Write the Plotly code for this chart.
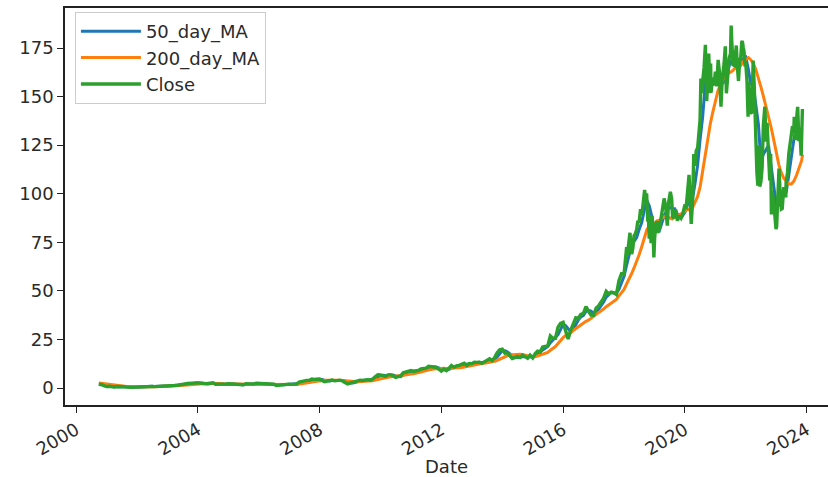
import pandas as pd
import plotly.graph_objects as go

# ---------------- data (split-adjusted prices) ----------------
# Monthly closes, month-ends from 2000-09 to 2017-12
close_monthly = [
    1.92, 1.83, 1.23, 0.78,
    0.87, 0.51, 0.51, 0.79, 0.84, 0.71, 0.62, 0.45, 0.30, 0.35, 0.45, 0.54,
    0.71, 0.70, 0.72, 0.83, 0.91, 0.81, 0.72, 0.75, 0.80, 0.97, 1.17, 0.94,
    1.09, 1.10, 1.30, 1.43, 1.79, 1.82, 2.08, 2.32, 2.42, 2.72, 2.73, 2.63,
    2.52, 2.15, 2.16, 2.18, 2.43, 2.72, 1.95, 1.91, 2.04, 1.71, 1.98, 2.21,
    2.16, 1.76, 1.71, 1.62, 1.78, 1.65, 2.25, 2.14, 2.27, 1.99, 2.42, 2.36,
    2.24, 1.87, 1.83, 1.76, 1.73, 1.93, 1.34, 1.54, 1.61, 1.90, 2.02, 1.97,
    1.88, 1.96, 1.99, 3.07, 3.46, 3.42, 3.93, 4.00, 4.66, 4.46, 4.53, 4.63,
    3.89, 3.22, 3.57, 3.93, 4.08, 3.67, 3.82, 4.04, 3.64, 2.86, 2.14, 2.56,
    2.94, 3.24, 3.67, 4.03, 3.90, 4.18, 4.29, 4.06, 4.67, 5.94, 6.80, 6.73,
    6.27, 5.92, 6.79, 6.86, 6.27, 5.46, 5.89, 6.24, 7.85, 8.26, 8.77, 9.00,
    8.48, 8.66, 9.01, 9.79, 9.83, 10.22, 11.13, 10.76, 10.81, 10.68, 9.61, 8.66,
    9.72, 8.98, 10.13, 11.60, 10.65, 11.42, 11.67, 12.41, 12.72, 11.64, 12.60, 12.54,
    13.28, 13.21, 13.32, 12.69, 13.46, 13.88, 15.06, 14.05, 15.63, 18.20, 19.68, 19.94,
    17.93, 18.11, 16.82, 15.21, 15.63, 16.24, 15.65, 16.95, 16.12, 15.27, 16.93, 15.52,
    17.73, 19.01, 18.61, 21.09, 21.46, 21.70, 26.81, 25.64, 25.59, 31.30, 33.24, 33.79,
    29.35, 25.20, 29.68, 32.98, 36.14, 35.78, 37.94, 38.46, 41.87, 39.49, 37.53, 37.49,
    41.17, 42.25, 44.33, 46.25, 49.73, 48.40, 49.39, 49.03, 48.07, 55.26, 58.84, 58.47,
]

# Finer closes from 2018 onward
close_recent_dates = [
    "2018-01-02", "2018-01-16", "2018-01-31", "2018-02-08", "2018-02-15", "2018-02-28",
    "2018-03-12", "2018-03-29", "2018-04-02", "2018-04-16", "2018-04-30", "2018-05-15",
    "2018-05-31", "2018-06-15", "2018-06-29", "2018-07-17", "2018-07-31", "2018-08-15",
    "2018-08-31", "2018-09-04", "2018-09-14", "2018-09-28", "2018-10-11", "2018-10-17",
    "2018-10-29", "2018-11-08", "2018-11-20", "2018-12-03", "2018-12-14", "2018-12-24",
    "2019-01-02", "2019-01-18", "2019-01-31", "2019-02-08", "2019-02-28", "2019-03-15",
    "2019-03-29", "2019-04-26", "2019-05-15", "2019-06-03", "2019-06-17", "2019-07-10",
    "2019-07-26", "2019-08-05", "2019-08-23", "2019-09-13", "2019-10-02", "2019-10-24",
    "2019-11-15", "2019-12-02", "2019-12-27",
    "2020-01-15", "2020-01-31", "2020-02-19", "2020-03-02", "2020-03-16", "2020-04-01",
    "2020-04-16", "2020-05-01", "2020-05-15", "2020-06-01", "2020-06-15", "2020-06-30",
    "2020-07-10", "2020-07-24", "2020-08-03", "2020-08-17", "2020-09-02", "2020-09-08",
    "2020-09-18", "2020-10-12", "2020-10-30", "2020-11-04", "2020-11-09", "2020-11-27",
    "2020-12-10", "2020-12-23", "2020-12-31",
    "2021-01-08", "2021-01-15", "2021-02-02", "2021-02-16", "2021-03-08", "2021-03-23",
    "2021-04-14", "2021-04-29", "2021-05-12", "2021-05-28", "2021-06-15", "2021-06-30",
    "2021-07-08", "2021-07-16", "2021-07-30", "2021-08-16", "2021-08-31", "2021-09-08",
    "2021-09-20", "2021-10-04", "2021-10-20", "2021-10-29", "2021-11-12", "2021-11-19",
    "2021-11-30", "2021-12-10", "2021-12-20", "2021-12-31",
    "2022-01-14", "2022-01-27", "2022-02-04", "2022-02-23", "2022-03-14", "2022-03-29",
    "2022-04-11", "2022-04-29", "2022-05-13", "2022-05-24", "2022-06-07", "2022-06-16",
    "2022-06-30", "2022-07-15", "2022-07-29", "2022-08-16", "2022-08-31", "2022-09-12",
    "2022-09-30", "2022-10-14", "2022-10-25", "2022-10-28", "2022-11-03", "2022-11-11",
    "2022-11-30", "2022-12-15", "2022-12-28",
    "2023-01-05", "2023-01-20", "2023-02-02", "2023-02-15", "2023-03-02", "2023-03-13",
    "2023-03-31", "2023-04-14", "2023-04-25", "2023-04-28", "2023-05-15", "2023-05-31",
    "2023-06-15", "2023-06-30", "2023-07-14", "2023-07-31", "2023-08-04", "2023-08-18",
    "2023-08-31", "2023-09-14", "2023-09-29", "2023-10-11", "2023-10-26", "2023-11-03",
    "2023-11-10",
]
close_recent = [
    59.45, 65.6, 72.5, 68.0, 73.0, 75.6,
    79.9, 72.4, 68.9, 72.1, 78.3, 79.4,
    81.5, 86.1, 85.0, 92.1, 88.9, 94.0,
    100.6, 102.0, 98.0, 100.2, 85.8, 91.5,
    76.9, 88.8, 74.6, 88.6, 79.5, 67.2,
    77.0, 84.7, 85.9, 79.9, 82.0, 85.6,
    89.0, 97.6, 93.1, 83.6, 95.0, 101.0,
    97.0, 88.3, 87.5, 91.8, 86.1, 88.7,
    87.4, 89.0, 93.5,
    93.0, 100.4, 109.7, 97.7, 84.5, 95.5,
    120.4, 114.3, 122.1, 123.6, 129.6, 137.9,
    159.3, 151.8, 158.8, 164.9, 176.6, 152.0,
    147.7, 172.1, 151.8, 167.0, 152.0, 159.8,
    155.8, 159.3, 162.8,
    159.1, 155.2, 168.9, 163.3, 144.8, 159.3,
    166.9, 175.9, 151.7, 161.2, 170.0, 172.0,
    186.6, 178.0, 166.4, 166.0, 173.5, 176.3,
    165.8, 158.1, 169.8, 168.6, 178.0, 178.6,
    175.4, 173.1, 166.6, 166.7,
    158.1, 139.6, 157.6, 142.0, 141.4, 168.6,
    155.7, 124.3, 111.1, 104.1, 124.8, 103.7,
    106.2, 113.6, 135.0, 144.8, 126.8, 136.5,
    113.0, 106.9, 120.6, 103.4, 89.3, 100.8,
    96.5, 88.5, 81.8,
    83.1, 97.3, 112.9, 101.2, 92.1, 92.4,
    103.3, 102.5, 98.1, 105.5, 110.8, 120.6,
    127.1, 130.4, 134.7, 133.7, 139.6, 127.6,
    138.0, 144.7, 127.1, 131.8, 119.6, 138.6,
    143.6,
]

# Moving averages, month-ends 2000-09 .. 2023-10, plus a final mid-Nov 2023 value
ma50 = [
    1.84, 1.94, 1.66, 1.28,
    0.96, 0.72, 0.63, 0.60, 0.71, 0.78, 0.72, 0.59, 0.46, 0.37, 0.37, 0.45,
    0.57, 0.65, 0.71, 0.75, 0.82, 0.85, 0.81, 0.76, 0.76, 0.84, 0.98, 1.03,
    1.07, 1.04, 1.16, 1.28, 1.51, 1.68, 1.90, 2.07, 2.27, 2.49, 2.62, 2.69,
    2.63, 2.43, 2.28, 2.16, 2.26, 2.44, 2.37, 2.19, 1.97, 1.89, 1.91, 1.97,
    2.12, 2.04, 1.88, 1.70, 1.70, 1.68, 1.89, 2.01, 2.22, 2.13, 2.23, 2.26,
    2.34, 2.16, 1.98, 1.82, 1.77, 1.81, 1.67, 1.60, 1.50, 1.68, 1.84, 1.96,
    1.96, 1.94, 1.94, 2.34, 2.84, 3.32, 3.60, 3.78, 4.20, 4.37, 4.55, 4.54,
    4.35, 3.91, 3.56, 3.57, 3.86, 3.89, 3.86, 3.84, 3.83, 3.51, 2.88, 2.52,
    2.55, 2.91, 3.28, 3.65, 3.87, 4.04, 4.12, 4.18, 4.34, 4.89, 5.80, 6.49,
    6.60, 6.31, 6.33, 6.52, 6.64, 6.20, 5.87, 5.86, 6.66, 7.45, 8.29, 8.68,
    8.75, 8.71, 8.72, 9.15, 9.54, 9.95, 10.39, 10.70, 10.90, 10.75, 10.37, 9.65,
    9.33, 9.12, 9.61, 10.24, 10.79, 11.22, 11.25, 11.83, 12.27, 12.26, 12.32, 12.26,
    12.81, 13.01, 13.27, 13.07, 13.16, 13.34, 14.13, 14.33, 14.91, 15.96, 17.84, 19.27,
    19.18, 18.66, 17.62, 16.71, 15.89, 15.69, 15.84, 16.28, 16.24, 16.11, 16.11, 15.91,
    16.73, 17.42, 18.45, 19.57, 20.39, 21.42, 23.32, 24.72, 26.01, 27.51, 30.04, 32.78,
    32.13, 30.26, 28.89, 30.10, 32.93, 34.97, 36.62, 37.39, 39.42, 39.94, 39.63, 38.17,
    38.73, 40.30, 42.58, 44.28, 46.77, 48.13, 49.17, 48.94, 48.83, 50.79, 54.06, 57.52,
    63.28, 68.88, 73.51, 75.43, 77.39, 81.59, 85.11, 91.50, 96.55, 93.56, 88.19, 79.84,
    81.85, 81.01, 85.66, 89.12, 91.37, 93.25, 92.26, 92.28, 89.65, 88.15, 88.56, 90.42,
    94.29, 95.67, 97.37, 105.13, 114.44, 127.92, 139.43, 156.24, 162.74, 160.60, 155.88, 157.69,
    160.52, 159.27, 156.55, 160.91, 163.07, 168.84, 166.51, 170.64, 168.06, 168.80, 169.41, 170.23,
    163.88, 156.62, 155.38, 146.95, 135.83, 116.90, 120.46, 122.64, 124.91, 114.07, 103.99, 94.33,
    94.56, 93.79, 100.22, 100.99, 109.77, 118.80, 128.21, 134.02, 132.94, 132.74,
    133.0,
]
ma200 = [
    2.63, 2.44, 2.24, 1.97,
    1.72, 1.50, 1.31, 1.20, 1.14, 1.00, 0.87, 0.73, 0.64, 0.60, 0.55, 0.56,
    0.58, 0.57, 0.56, 0.57, 0.60, 0.63, 0.67, 0.71, 0.75, 0.79, 0.84, 0.86,
    0.90, 0.93, 0.97, 1.03, 1.13, 1.24, 1.37, 1.50, 1.63, 1.81, 1.97, 2.12,
    2.25, 2.32, 2.36, 2.39, 2.43, 2.47, 2.42, 2.34, 2.27, 2.18, 2.12, 2.13,
    2.13, 2.09, 2.02, 1.91, 1.89, 1.86, 1.88, 1.93, 1.96, 1.93, 1.96, 2.02,
    2.07, 2.10, 2.10, 2.11, 2.06, 2.04, 1.95, 1.90, 1.82, 1.78, 1.75, 1.76,
    1.77, 1.79, 1.81, 1.93, 2.14, 2.33, 2.56, 2.77, 3.03, 3.28, 3.55, 3.82,
    4.01, 4.02, 4.03, 4.08, 4.10, 4.06, 3.98, 3.94, 3.85, 3.67, 3.50, 3.43,
    3.37, 3.30, 3.26, 3.29, 3.30, 3.32, 3.38, 3.50, 3.75, 4.09, 4.48, 4.83,
    5.09, 5.28, 5.57, 5.83, 6.03, 6.17, 6.29, 6.32, 6.43, 6.58, 6.83, 7.14,
    7.31, 7.49, 7.76, 8.20, 8.59, 8.99, 9.32, 9.57, 9.77, 9.94, 10.05, 10.05,
    10.12, 10.04, 10.07, 10.21, 10.16, 10.23, 10.31, 10.49, 10.80, 11.09, 11.38, 11.74,
    12.05, 12.21, 12.48, 12.61, 12.79, 12.93, 13.17, 13.41, 13.71, 14.28, 14.92, 15.59,
    16.05, 16.59, 16.93, 17.06, 17.12, 17.34, 17.34, 17.22, 16.86, 16.39, 16.29, 16.03,
    16.13, 16.51, 16.80, 17.29, 17.87, 18.34, 19.41, 20.45, 21.32, 22.89, 24.45, 25.92,
    27.00, 27.65, 28.47, 29.60, 30.53, 31.55, 32.78, 33.50, 34.36, 34.93, 35.75, 36.74,
    37.89, 38.81, 39.63, 40.68, 41.86, 42.85, 43.60, 44.56, 45.61, 47.39, 49.16, 50.78,
    53.60, 56.54, 58.80, 61.79, 65.00, 68.60, 72.68, 77.21, 81.34, 83.49, 84.68, 84.63,
    85.99, 86.36, 87.11, 88.25, 88.24, 87.64, 86.96, 87.85, 88.08, 89.45, 89.86, 90.90,
    92.04, 91.83, 92.70, 95.60, 98.48, 103.39, 112.0, 121.0, 129.0, 136.0, 142.0, 148.0,
    153.0, 156.0, 159.0, 161.0, 162.0, 162.5, 163.5, 165.0, 165.5, 166.0, 168.0, 169.0,
    170.0, 169.0, 167.0, 164.0, 160.0, 155.0, 150.0, 145.0, 140.0, 134.0, 128.0, 121.0,
    115.0, 111.0, 108.0, 106.5, 105.0, 105.0, 106.5, 109.5, 113.0, 117.0,
    120.0,
]

tick_years = [2000, 2004, 2008, 2012, 2016, 2020, 2024]
series_names = ["50_day_MA", "200_day_MA", "Close"]
series_colors = ["#1f77b4", "#ff7f0e", "#2ca02c"]

# ---------------- dates ----------------
def month_ends(first_month, n):
    starts = pd.date_range(first_month, periods=n, freq="MS")
    return list((starts + pd.offsets.MonthEnd(0)).strftime("%Y-%m-%d"))

close_dates = month_ends("2000-09-01", len(close_monthly)) + close_recent_dates
close_vals = close_monthly + close_recent
ma_dates = month_ends("2000-09-01", len(ma50) - 1) + ["2023-11-12"]

# ---------------- figure ----------------
FONT = "DejaVu Sans"
TXT = "#2a2a2a"

fig = go.Figure()
for name, color, xs, ys, w in [
    (series_names[0], series_colors[0], ma_dates, ma50, 3),
    (series_names[1], series_colors[1], ma_dates, ma200, 3),
    (series_names[2], series_colors[2], close_dates, close_vals, 3.4),
]:
    fig.add_trace(go.Scatter(x=xs, y=ys, mode="lines", name=name,
                             line=dict(color=color, width=w)))

fig.update_layout(
    width=828, height=477,
    margin=dict(l=65, r=0, t=8, b=72, autoexpand=False),
    paper_bgcolor="white", plot_bgcolor="white",
    font=dict(family=FONT, size=18, color=TXT),
    showlegend=True,
    legend=dict(x=0.013, y=0.99, xanchor="left", yanchor="top",
                bgcolor="rgba(255,255,255,0.85)", bordercolor="#cccccc",
                borderwidth=1, font=dict(size=18, color=TXT),
                tracegroupgap=0, itemwidth=60),
)

fig.update_xaxes(
    type="date",
    automargin=False,
    range=["1999-08-21", "2024-09-12"],
    tickmode="array",
    tickvals=[f"{y}-01-01" for y in tick_years],
    ticktext=[str(y) for y in tick_years],
    tickangle=-30,
    ticks="outside", ticklen=6, tickwidth=1.3, tickcolor="#222",
    showline=True, linecolor="#222", linewidth=1.5, mirror=True,
    showgrid=False, zeroline=False,
    tickfont=dict(size=18, color=TXT),
    title=dict(text="Date", font=dict(size=18, color=TXT), standoff=8),
)
fig.update_yaxes(
    automargin=False,
    range=[-8.75, 195.6],
    tickmode="array",
    tickvals=[0, 25, 50, 75, 100, 125, 150, 175],
    ticks="outside", ticklen=6, tickwidth=1.3, tickcolor="#222",
    showline=True, linecolor="#222", linewidth=1.5,
    showgrid=False, zeroline=False,
    tickfont=dict(size=18, color=TXT),
)

fig.write_html("out.html")
